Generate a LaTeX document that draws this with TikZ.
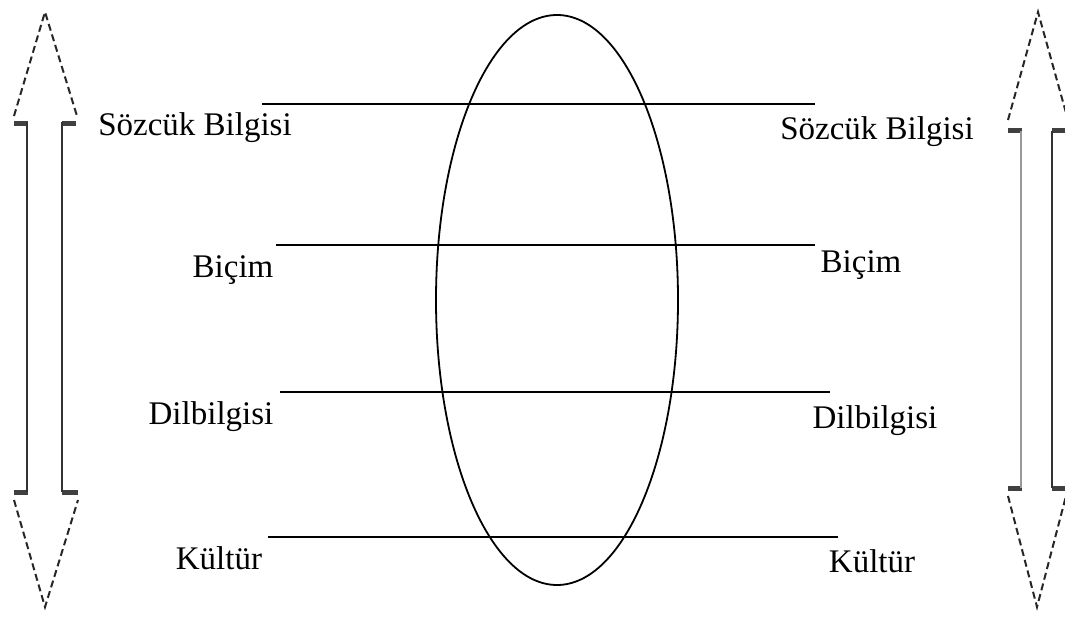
\documentclass[tikz,border=0pt]{standalone}
\usepackage{fontspec}
\setmainfont{Liberation Serif}
\begin{document}
\begin{tikzpicture}[x=1pt,y=-1pt,
  lbl/.style={inner sep=0pt,font=\fontsize{33}{38}\selectfont},
  hline/.style={line width=1.5pt,black},
  headside/.style={dash pattern=on 7pt off 4pt,line width=2pt,black!85},
  shaft/.style={line width=2pt,black!80},
  stepbar/.style={line width=5pt,black!75}]
\useasboundingbox (0,0) rectangle (1065,617);
% ellipse
\draw[line width=1.8pt] (557,300) ellipse [x radius=121, y radius=285];
% horizontal lines
\coordinate (l1a) at (262,104); \coordinate (l1b) at (815,104);
\coordinate (l2a) at (276,245); \coordinate (l2b) at (815,245);
\coordinate (l3a) at (280,392); \coordinate (l3b) at (830,392);
\coordinate (l4a) at (268,537); \coordinate (l4b) at (838,537);
\draw[hline] (l1a) -- (l1b);
\draw[hline] (l2a) -- (l2b);
\draw[hline] (l3a) -- (l3b);
\draw[hline] (l4a) -- (l4b);
% labels left
\node[lbl] (sl1) at (195,128) {Sözcük Bilgisi};
\node[lbl] (sl2) at (233,270) {Biçim};
\node[lbl] (sl3) at (211,417) {Dilbilgisi};
\node[lbl] (sl4) at (219,558) {Kültür};
% labels right
\node[lbl] (sr1) at (877,132) {Sözcük Bilgisi};
\node[lbl] (sr2) at (861,265) {Biçim};
\node[lbl] (sr3) at (875,421) {Dilbilgisi};
\node[lbl] (sr4) at (872,561) {Kültür};
% left double arrow
\draw[headside] (14,116) -- (45,12) -- (77,116);
\draw[headside] (14,500) -- (45,607) -- (78,500);
\draw[stepbar] (14,124) -- (28,124);
\draw[stepbar] (62,124) -- (76,124);
\draw[stepbar] (14,492) -- (28,492);
\draw[stepbar] (62,492) -- (78,492);
\draw[shaft] (27,122) -- (27,492);
\draw[shaft] (62,122) -- (62,492);
% right double arrow
\draw[headside] (1008,120) -- (1038,12) -- (1068,120);
\draw[headside] (1008,496) -- (1037,607) -- (1066,496);
\draw[stepbar] (1008,131) -- (1022,131);
\draw[stepbar] (1052,131) -- (1066,131);
\draw[stepbar] (1008,488) -- (1022,488);
\draw[stepbar] (1052,488) -- (1066,488);
\draw[line width=2pt,black!40] (1021,131) -- (1021,488);
\draw[shaft] (1052,131) -- (1052,488);
\end{tikzpicture}
\end{document}
